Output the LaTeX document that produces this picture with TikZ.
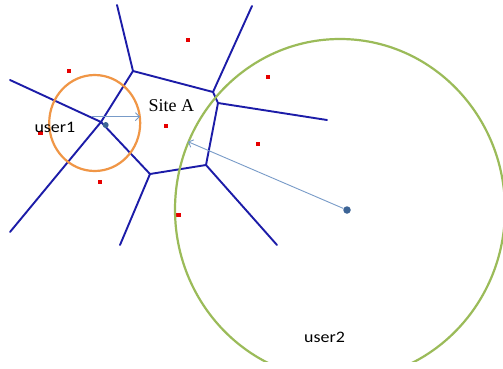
\documentclass[tikz,border=0pt]{standalone}
\usepackage{fontspec}
\setmainfont{Liberation Serif}
\newfontfamily\calib{Carlito}
\usetikzlibrary{arrows.meta}
\definecolor{vblue}{RGB}{28,28,168}
\definecolor{ogreen}{RGB}{155,187,89}
\definecolor{oorange}{RGB}{240,150,70}
\definecolor{arrblue}{RGB}{120,155,200}
\definecolor{dotblue}{RGB}{60,100,150}
\definecolor{sqred}{RGB}{230,0,0}
\tikzset{
  vedge/.style={draw=vblue, line width=1.9pt, line cap=round, line join=round},
  site/.style={fill=sqred, minimum size=4.5pt, inner sep=0pt, draw=none, rectangle},
  userdot/.style={circle, fill=dotblue, inner sep=0pt},
  rangearrow/.style={draw=arrblue, line width=0.9pt, -{Straight Barb[length=4pt,width=8pt]}},
  userlabel/.style={inner sep=0pt, anchor=base west, font=\calib\fontsize{16}{16}\selectfont},
}
\begin{document}
\begin{tikzpicture}[x=1pt,y=-1pt]
\useasboundingbox (0,0) rectangle (503,368);
\fill[white] (0,0) rectangle (503,368);
% Voronoi vertices
\coordinate (v1) at (133,71);
\coordinate (v2) at (213,92);
\coordinate (v2b) at (218,103);
\coordinate (v3) at (101,122);
\coordinate (v4) at (150,174);
\coordinate (v5) at (206,165);
% free ends
\coordinate (e1) at (117,5);
\coordinate (e2) at (252,6);
\coordinate (e3) at (327,120);
\coordinate (e4) at (277,245);
\coordinate (e5) at (120,245);
\coordinate (e6) at (10,232);
\coordinate (e7) at (10,80);
% Voronoi edges
\draw[vedge] (e1) -- (v1) -- (v2) -- (e2);
\draw[vedge] (v2) -- (v2b) -- (e3);
\draw[vedge] (v2b) -- (v5) -- (e4);
\draw[vedge] (v5) -- (v4) -- (e5);
\draw[vedge] (v4) -- (v3) -- (v1);
\draw[vedge] (e7) -- (v3) -- (e6);
% sites
\node[site] (s1) at (69,71) {};
\node[site] (s2) at (40.5,133) {};
\node[site] (s3) at (100,182) {};
\node[site] (s4) at (166,126) {};
\node[site] (s5) at (188,40) {};
\node[site] (s6) at (268,77) {};
\node[site] (s7) at (258,144) {};
\node[site] (s8) at (178.5,215) {};
% user1 range
\draw[draw=oorange, line width=2.2pt] (94.7,123) ellipse [x radius=45.5pt, y radius=48pt];
% user2 range
\begin{scope}
\clip (0,0) rectangle (503,361);
\draw[draw=ogreen, line width=2.2pt] (340,209.5) ellipse [x radius=165pt, y radius=170.5pt];
\end{scope}
% users
\node[userdot, minimum size=6pt] (u1) at (105.7,125) {};
\node[userdot, minimum size=7.5pt] (u2) at (347,210) {};
\coordinate (a1s) at (91.7,116.7);
\coordinate (a1e) at (140,116.7);
\coordinate (a2e) at (188,141.7);
\draw[rangearrow] (a1s) -- (a1e);
\draw[rangearrow] (u2) -- (a2e);
% labels
\node[inner sep=0pt, anchor=base west, font=\fontsize{18}{18}\selectfont] (siteA) at (148.3,111.7) {Site A};
\node[userlabel] (l1) at (34.3,132.3) {\scalebox{1.12}[1]{user1}};
\node[userlabel] (l2) at (304,342.3) {\scalebox{1.12}[1]{user2}};
\end{tikzpicture}
\end{document}
